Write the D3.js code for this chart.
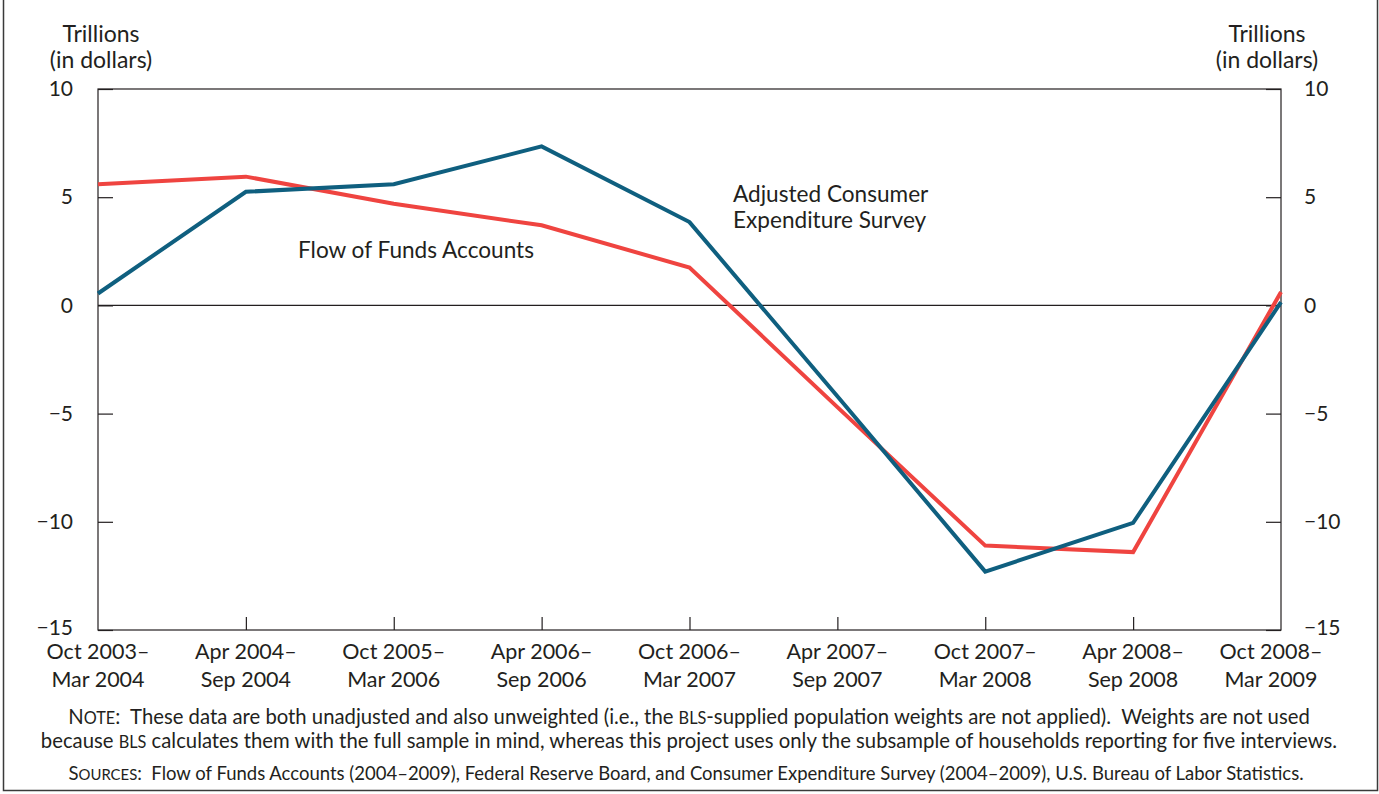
<!DOCTYPE html>
<html>
<head>
<meta charset="utf-8">
<script src="https://cdn.jsdelivr.net/npm/d3@7"></script>
<style>
  body { margin: 0; background: #fff; }
  svg { font-family: Lato, 'Open Sans', sans-serif; fill: #231f20; }
  text { white-space: pre; }
</style>
</head>
<body>
<svg id="chart" width="1379" height="794"></svg>
<script>
// periods on the x axis (two-line labels)
const periods = [
  ['Oct 2003–', 'Mar 2004'],
  ['Apr 2004–', 'Sep 2004'],
  ['Oct 2005–', 'Mar 2006'],
  ['Apr 2006–', 'Sep 2006'],
  ['Oct 2006–', 'Mar 2007'],
  ['Apr 2007–', 'Sep 2007'],
  ['Oct 2007–', 'Mar 2008'],
  ['Apr 2008–', 'Sep 2008'],
  ['Oct 2008–', 'Mar 2009']
]
// trillions of dollars
const adjustedCES = [0.55, 5.25, 5.6, 7.35, 3.85, -4.2, -12.3, -10.05, 0.15]
const flowOfFunds = [5.6, 5.95, 4.7, 3.7, 1.75, -4.7, -11.1, -11.4, 0.62]
const yTicks = [10, 5, 0, -5, -10, -15]

const svg = d3.select('#chart')
const margin = { top: 89, left: 98, right: 98, bottom: 164 }
const width = 1379 - margin.left - margin.right
const height = 794 - margin.top - margin.bottom

const x = d3.scalePoint().domain(d3.range(periods.length)).range([0, width])
const y = d3.scaleLinear().domain([-15, 10]).range([height, 0])

const g = svg.append('g').attr('transform', `translate(${margin.left},${margin.top})`)

// outer frame (top is cut off in the original)
svg.append('path')
  .attr('d', 'M3.5,0 V790.5 H1377.5 V0')
  .attr('fill', 'none').attr('stroke', '#3a3a3a').attr('stroke-width', 1.5)

// plot box
g.append('rect')
  .attr('width', width).attr('height', height)
  .attr('fill', 'none').attr('stroke', '#231f20').attr('stroke-width', 1.2)

// zero line
g.append('line')
  .attr('x1', 0).attr('x2', width)
  .attr('y1', y(0)).attr('y2', y(0))
  .attr('stroke', '#231f20').attr('stroke-width', 1.2)

// inward ticks, left and right
const fmt = d => d < 0 ? '−' + Math.abs(d) : d
const yl = g.append('g').call(d3.axisLeft(y).tickValues(yTicks).tickSizeInner(-15).tickSizeOuter(0).tickPadding(25).tickFormat(fmt))
const yr = g.append('g').attr('transform', `translate(${width},0)`)
  .call(d3.axisRight(y).tickValues(yTicks).tickSizeInner(-15).tickSizeOuter(0).tickPadding(23).tickFormat(fmt))
for (const a of [yl, yr]) {
  a.select('.domain').remove()
  a.selectAll('line').attr('stroke', '#231f20').attr('stroke-width', 1.2)
  a.selectAll('text').attr('font-family', 'Lato, sans-serif').attr('font-size', 21).attr('fill', '#231f20')
}
yl.selectAll('text').filter(d => d === -15).attr('dy', '0.2em')
yr.selectAll('text').filter(d => d === -15).attr('dy', '0.2em')

// bottom ticks pointing up
const xa = g.append('g').attr('transform', `translate(0,${height})`)
  .call(d3.axisBottom(x).tickSizeInner(-13).tickSizeOuter(0).tickFormat(''))
xa.select('.domain').remove()
xa.selectAll('line').attr('stroke', '#231f20').attr('stroke-width', 1.2)
  .filter((d, i) => i === 0 || i === periods.length - 1).remove()

// two-line period labels
const lab = g.append('g').selectAll('text').data(periods).join('text')
  .attr('x', (d, i) => x(i) + (i === periods.length - 1 ? -10 : 0))
  .attr('y', height + 29)
  .attr('text-anchor', 'middle')
  .attr('font-size', 21.5)
lab.selectAll('tspan').data(d => d).join('tspan')
  .attr('x', function () { return this.parentNode.getAttribute('x') })
  .attr('dy', (d, i) => i === 0 ? 0 : 28)
  .text(d => d)

// axis unit titles
const unitTitle = (cx) => {
  const t = svg.append('text').attr('text-anchor', 'middle').attr('font-size', 23)
  t.append('tspan').attr('x', cx).attr('y', 42).text('Trillions')
  t.append('tspan').attr('x', cx).attr('y', 68).text('(in dollars)')
}
unitTitle(101)
unitTitle(1267)

// series
const line = d3.line().x((d, i) => x(i)).y(d => y(d))
g.append('path').datum(flowOfFunds)
  .attr('d', line).attr('fill', 'none')
  .attr('stroke', '#ef4440').attr('stroke-width', 4).attr('stroke-linejoin', 'miter')
g.append('path').datum(adjustedCES)
  .attr('d', line).attr('fill', 'none')
  .attr('stroke', '#0f5f7f').attr('stroke-width', 4).attr('stroke-linejoin', 'miter')

// direct labels
svg.append('text').attr('x', 298).attr('y', 258).attr('font-size', 22.6).text('Flow of Funds Accounts')
const ces = svg.append('text').attr('font-size', 22.6)
ces.append('tspan').attr('x', 733).attr('y', 202).text('Adjusted Consumer')
ces.append('tspan').attr('x', 733).attr('y', 228).text('Expenditure Survey')

// notes with small caps words
const note = svg.append('text').attr('text-anchor', 'middle').attr('font-size', 20.3)
const l1 = note.append('tspan').attr('x', 689).attr('y', 724)
l1.append('tspan').text('N')
l1.append('tspan').attr('font-size', 16.3).text('OTE')
l1.append('tspan').text(':  These data are both unadjusted and also unweighted (i.e., the ')
l1.append('tspan').attr('font-size', 16.3).text('BLS')
l1.append('tspan').text('-supplied population weights are not applied).  Weights are not used')
const l2 = note.append('tspan').attr('x', 689).attr('y', 748)
l2.append('tspan').text('because ')
l2.append('tspan').attr('font-size', 16.3).text('BLS')
l2.append('tspan').text(' calculates them with the full sample in mind, whereas this project uses only the subsample of households reporting for five interviews.')

const src = svg.append('text').attr('text-anchor', 'middle').attr('font-size', 18.5)
  .attr('x', 686).attr('y', 780)
src.append('tspan').text('S')
src.append('tspan').attr('font-size', 14.9).text('OURCES')
src.append('tspan').text(':  Flow of Funds Accounts (2004–2009), Federal Reserve Board, and Consumer Expenditure Survey (2004–2009), U.S. Bureau of Labor Statistics.')
</script>
</body>
</html>
